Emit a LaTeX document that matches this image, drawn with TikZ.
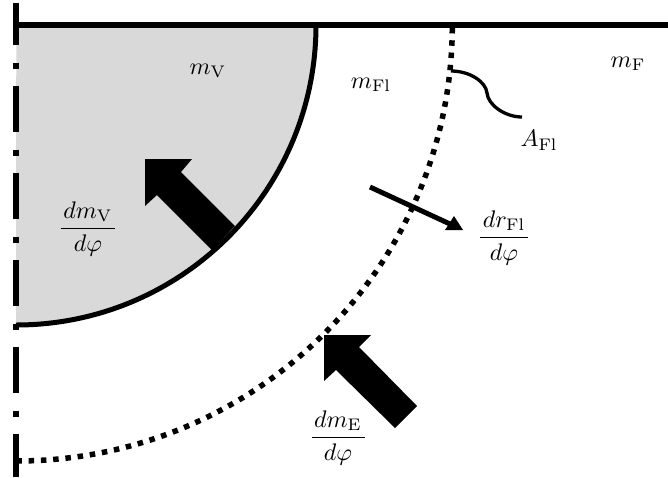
\documentclass[tikz,border=0pt]{standalone}
\usepackage{amsmath}
\newcommand{\fracl}[2]{$\genfrac{}{}{0.8pt}{0}{\mkern2mu #1\mkern2mu}{#2}$}
\tikzset{
  lbl/.style={inner sep=0pt,scale=2.4},
  wall/.style={line width=6pt},
  axisline/.style={line width=6pt,dash pattern=on 46pt off 17.5pt on 6pt off 17.5pt,dash phase=4pt},
  bubble/.style={line width=5pt},
  front/.style={line width=5.5pt,dash pattern=on 5.5pt off 6.8pt},
  thinflow/.style={line width=5pt},
  tipfill/.style={fill=black,draw=none},
  squiggle/.style={line width=3.3pt}
}
\definecolor{vgray}{HTML}{D9D9D9}
\begin{document}
\begin{tikzpicture}[x=1pt,y=-1pt]
\useasboundingbox (0,0) rectangle (668,477);
\coordinate (axisTop) at (16.3,3);
\coordinate (axisBottom) at (16.3,477);
\coordinate (wallLeft) at (16.3,25);
\coordinate (wallRight) at (668,25);
\fill[vgray] (16.3,25) -- (316,25) arc[start angle=0,end angle=-90,radius=300pt] -- cycle;
\draw[bubble] (316,25) arc[start angle=0,end angle=-90,radius=300pt];
\draw[front] (16.3,461) arc[start angle=-90,end angle=0,radius=436pt];
\draw[axisline] (axisTop) -- (axisBottom);
\draw[wall] (wallLeft) -- (wallRight);
% big arrow into vapour
\fill[tipfill] (145,159) -- (192,159) -- (181,172) -- (235,226) -- (212,250) -- (157,195) -- (145,206) -- cycle;
% big arrow onto flame front
\fill[tipfill] (324,335) -- (371,335) -- (359,347) -- (417,406) -- (395,428) -- (336,370) -- (324,381) -- cycle;
% thin arrow
\coordinate (flowStart) at (370,187);
\coordinate (flowEnd) at (450,224);
\draw[thinflow] (flowStart) -- (flowEnd);
\fill[tipfill] (463,230) -- (445,230) -- (454,216) -- cycle;
% squiggle
\coordinate (sqA) at (451,71);
\coordinate (sqB) at (522,117);
\draw[squiggle] (sqA) .. controls (470,71) and (486,82) .. (487,93) .. controls (488,105) and (505,117) .. (sqB);
\node[lbl] (mV) at (208,71) {$m_{\mathrm{V}}$};
\node[lbl] (mFl) at (371,85) {$m_{\mathrm{Fl}}$};
\node[lbl] (mF) at (628,64) {$m_{\mathrm{F}}$};
\node[lbl] (AFl) at (539,140) {$A_{\mathrm{Fl}}$};
\node[lbl] (dmV) at (88,229) {\fracl{dm_{\mathrm{V}}}{d\varphi}};
\node[lbl] (drFl) at (504,238) {\fracl{dr_{\mathrm{Fl}}}{d\varphi}};
\node[lbl] (dmE) at (338,438) {\fracl{dm_{\mathrm{E}}}{d\varphi}};
\end{tikzpicture}
\end{document}
